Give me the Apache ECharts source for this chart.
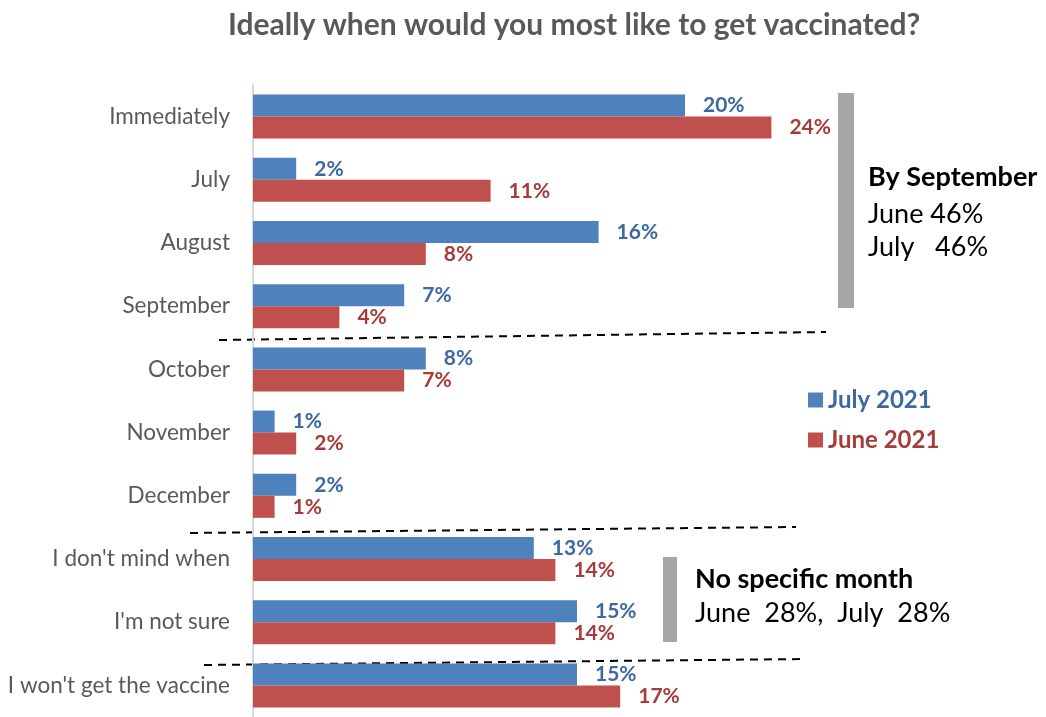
<!DOCTYPE html>
<html>
<head>
<meta charset="utf-8">
<script src="https://cdn.jsdelivr.net/npm/echarts@6/dist/echarts.min.js"></script>
<style>
  html, body { margin: 0; padding: 0; background: #ffffff; }
  #chart { width: 1046px; height: 717px; }
</style>
</head>
<body>
<div id="chart"></div>
<script>
// Survey answers, top to bottom
const categories = ['Immediately', 'July', 'August', 'September', 'October', 'November', 'December',
  "I don't mind when", "I'm not sure", "I won't get the vaccine"];
// Share of respondents (%) per wave
const july2021 = [20, 2, 16, 7, 8, 1, 2, 13, 15, 15];
const june2021 = [24, 11, 8, 4, 7, 2, 1, 14, 14, 17];
const seriesNames = ['July 2021', 'June 2021'];

const FONT = 'Lato, "Open Sans", sans-serif';
const BLUE = '#4f81bd', BLUE_TXT = '#3e68a2';
const RED = '#c0504d', RED_TXT = '#a53c39';

const chart = echarts.init(document.getElementById('chart'));

function barSeries(name, data, color, txtColor) {
  return {
    name: name,
    type: 'bar',
    data: data,
    barWidth: 22,
    barGap: '0%',
    itemStyle: { color: color },
    label: {
      show: true,
      position: 'right',
      distance: 18,
      formatter: '{c}%',
      color: txtColor,
      fontFamily: FONT,
      fontWeight: 'bold',
      fontSize: 21
    }
  };
}

const dashed = { stroke: '#000', lineWidth: 2, lineDash: [8, 6] };
const greyBar = { fill: '#a6a6a6' };

function note(x, y, text, bold) {
  return {
    type: 'text',
    style: {
      x: x, y: y, text: text, verticalAlign: 'middle',
      fontFamily: FONT, fontWeight: bold ? 'bold' : 'normal', fontSize: 27, fill: '#000'
    }
  };
}

chart.setOption({
  animation: false,
  backgroundColor: '#ffffff',
  title: {
    text: 'Ideally when would you most like to get vaccinated?',
    left: 223,
    top: 5,
    textStyle: { fontFamily: FONT, fontWeight: 'bold', fontSize: 30, color: '#595959' }
  },
  legend: {
    orient: 'vertical',
    left: 803,
    top: 383,
    itemWidth: 15,
    itemHeight: 15,
    itemGap: 16,
    icon: 'rect',
    textStyle: { fontFamily: FONT, fontWeight: 'bold', fontSize: 24 },
    data: [
      { name: seriesNames[0], textStyle: { color: BLUE_TXT } },
      { name: seriesNames[1], textStyle: { color: RED_TXT } }
    ]
  },
  grid: { left: 253, top: 85, width: 648, bottom: -5, containLabel: false },
  xAxis: {
    type: 'value',
    min: 0,
    max: 30,
    show: false
  },
  yAxis: {
    type: 'category',
    data: categories,
    inverse: true,
    axisLine: { show: true, lineStyle: { color: '#d9d9d9', width: 2 } },
    axisTick: { show: false },
    axisLabel: { margin: 23, color: '#595959', fontFamily: FONT, fontSize: 22.5 }
  },
  series: [
    barSeries(seriesNames[0], july2021, BLUE, BLUE_TXT),
    barSeries(seriesNames[1], june2021, RED, RED_TXT)
  ],
  graphic: [
    // group separators
    { type: 'line', shape: { x1: 219, y1: 340, x2: 826, y2: 332 }, style: dashed },
    { type: 'line', shape: { x1: 190, y1: 533, x2: 796, y2: 527 }, style: dashed },
    { type: 'line', shape: { x1: 204, y1: 665, x2: 806, y2: 659 }, style: dashed },
    // bracket bars for summaries
    { type: 'rect', shape: { x: 838, y: 93, width: 16, height: 215 }, style: greyBar },
    { type: 'rect', shape: { x: 663, y: 557, width: 14, height: 85 }, style: greyBar },
    // summary texts
    note(868, 177, 'By September', true),
    note(868, 214, 'June 46%', false),
    note(868, 247, 'July   46%', false),
    note(695, 579, 'No specific month', true),
    note(695, 613, 'June  28%,  July  28%', false)
  ]
});
</script>
</body>
</html>
